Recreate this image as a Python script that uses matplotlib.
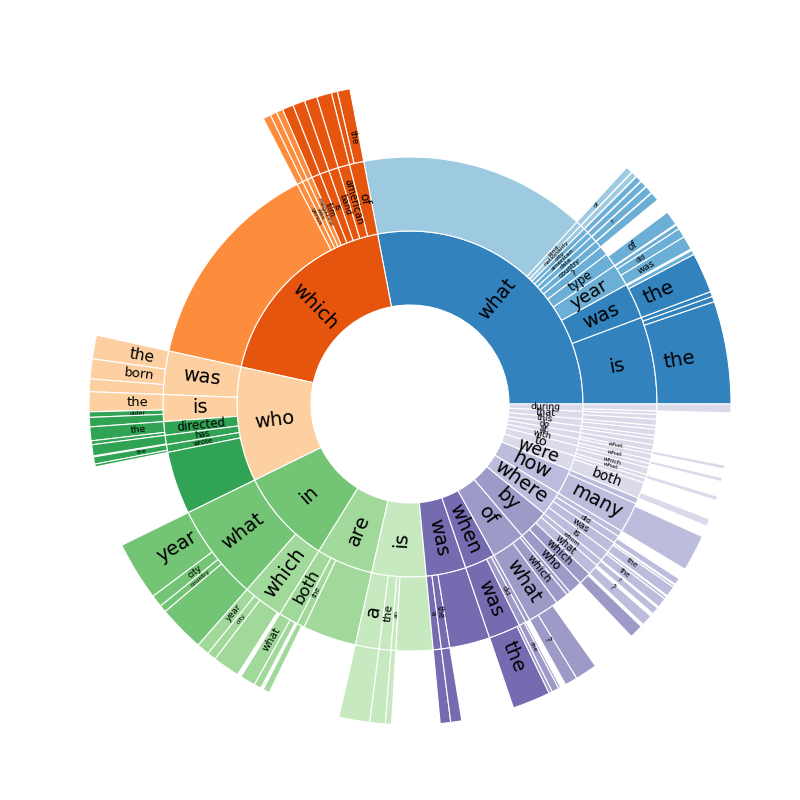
import numpy as np
import matplotlib
matplotlib.use("Agg")
import matplotlib.pyplot as plt
from matplotlib.patches import Wedge

# share of questions (in degrees of the circle) by first, second and third word
level1_labels = ["what", "which", "who", "in", "are", "is", "was", "when", "of", "by",
                 "where", "how", "were", "to", "with", "at", "do", "this", "that", "during"]
level1_values = [100.8, 66.8, 38.5, 32.1, 19.0, 18.2, 13.4, 10.2, 11.4, 10.4,
                 8.2, 8.6, 4.9, 3.5, 2.3, 2.2, 2.2, 2.3, 2.6, 2.4]

# second word: parent / label / value  ("" = other, "_x" = unlabeled)
level2_parent = (["what"] * 12 + ["which"] * 9 + ["who"] * 6 + ["in"] * 2 + ["are"] * 3
                 + ["is"] * 4 + ["was"] * 3 + ["when"] * 3 + ["of"] * 3 + ["by"] * 4
                 + ["where"] * 4 + ["how"] * 2 + ["were"] * 2 + ["to"] * 3 + ["with"] * 2
                 + ["at"] * 2 + ["do"] * 2 + ["this"] * 2 + ["that"] * 2 + ["during"] * 2)
level2_labels = ["is", "was", "year", "type", "?", "country", "date", "american", "city",
                 "nationality", "kind", "",
                 "of", "american", "band", "is", "film", "magazine", "was", "genus", "",
                 "was", "is", "directed", "has", "wrote", "",
                 "what", "which",
                 "both", "the", "",
                 "a", "the", "an", "",
                 "a", "the", "",
                 "was", "did", "",
                 "what", "which", "",
                 "who", "which", "what", "whom",
                 "is", "was", "did", "",
                 "many", "",
                 "both", "",
                 "what", "which", "",
                 "what", "",
                 "what", "",
                 "", "",
                 "", "",
                 "", "",
                 "", "_a"]
level2_values = [20.5, 8.4, 5.2, 3.2, 2.2, 1.7, 1.5, 1.3, 1.2, 1.1, 1.2, 53.3,
                 3.4, 2.7, 2.3, 2.2, 2.0, 1.2, 1.2, 1.4, 50.4,
                 10.2, 6.3, 3.2, 2.2, 1.8, 14.8,
                 22.6, 9.5,
                 4.6, 1.8, 12.6,
                 5.6, 2.8, 1.1, 8.7,
                 1.9, 2.0, 9.5,
                 7.5, 1.7, 1.0,
                 7.5, 3.0, 0.9,
                 3.2, 3.0, 2.6, 1.6,
                 2.5, 2.5, 1.8, 1.4,
                 7.2, 1.4,
                 3.8, 1.1,
                 0.9, 1.6, 1.0,
                 1.0, 1.3,
                 0.8, 1.4,
                 1.3, 0.9,
                 1.4, 0.9,
                 1.5, 1.1,
                 0.8, 1.6]

# third word: parent path / label / value
level3_parent = (["what/is"] * 3 + ["what/was"] * 2 + ["what/year"] * 3 + ["what/type",
                 "what/country", "what/date", "what/american", "what/city", "what/nationality",
                 "what/kind"]
                 + ["which/of"] * 2 + ["which/american", "which/band", "which/is", "which/film",
                 "which/magazine", "which/was", "which/genus"]
                 + ["who/was"] * 3 + ["who/is"] * 3 + ["who/directed"] * 2 + ["who/has"]
                 + ["who/wrote"] * 2
                 + ["in/what"] * 4 + ["in/which"] * 3
                 + ["are/both"] * 2 + ["are/the"]
                 + ["is/a", "is/the", "is/an", "was/a", "was/the"]
                 + ["when/was"] * 2 + ["when/did"] * 2
                 + ["of/what"] * 2 + ["by/which", "by/what", "by/whom"]
                 + ["where/is"] * 2 + ["where/was"] * 2 + ["where/did", "how/many", "were/both",
                 "to/what", "with/what", "at/what", "during/_a"])
level3_labels = (["the", "", "", "the", "", "was", "did", "", "of", "", "?", "", "", "", "of"]
                 + ["the", "", "", "", "", "", "", "", ""]
                 + ["the", "born", "", "the", "older", "", "the", "", "", "the", ""]
                 + ["year", "city", "country", "", "year", "city", ""]
                 + ["what", "", ""]
                 + ["", "", "", "", ""]
                 + ["the", "", "the", ""]
                 + ["?", "", "", "?", "?"]
                 + ["the", "", "the", "", "", "", "", "", "", "", ""])
level3_values = ([18.6, 1.0, 0.9, 7.3, 0.8, 2.5, 1.7, 0.8, 2.6, 1.6, 1.4, 1.2, 1.1, 1.0, 1.2]
                 + [2.3, 1.1, 2.7, 2.3, 2.2, 2.0, 1.2, 1.2, 1.4]
                 + [4.3, 3.6, 2.3, 3.6, 1.0, 1.7, 2.5, 0.7, 2.0, 1.3, 0.5]
                 + [10.7, 2.2, 1.3, 8.4, 2.3, 1.6, 4.9]
                 + [2.8, 1.3, 1.2]
                 + [5.6, 2.8, 1.1, 1.9, 2.0]
                 + [6.9, 0.6, 1.3, 0.4]
                 + [2.3, 4.0, 2.5, 2.0, 1.3]
                 + [1.8, 0.5, 1.9, 0.4, 1.2, 6.6, 1.4, 0.8, 0.7, 0.7, 1.6])

palette = plt.get_cmap("tab20c").colors[:16]
hole = 99 / 74
ring = 1.0
label_pos = [0.5, 0.5, 0.35]   # where the label sits across each ring
scale = 360.0 / sum(level1_values)

fig = plt.figure(figsize=(8, 8), dpi=100)
ax = fig.add_axes([0, 0, 1, 1])
ax.set_xlim(-410 / 74, 390 / 74)
ax.set_ylim(-396 / 74, 404 / 74)
ax.set_aspect("equal")
ax.axis("off")


def draw(level, start, value, label):
    t1 = start * scale
    t2 = (start + value) * scale
    r_in = hole + level * ring
    color = palette[min(15, int(t1 / 360 * 16))]
    ax.add_patch(Wedge((0, 0), r_in + ring, t1, t2, width=ring, facecolor=color,
                       edgecolor="white", linewidth=0.8))
    if label and not label.startswith("_"):
        mid = (t1 + t2) / 2
        r = r_in + ring * label_pos[level]
        rot = mid if (mid <= 90 or mid >= 270) else mid - 180
        fs = max(4.5, min(14, 0.8 + 2.4 * (t2 - t1)))
        ax.text(r * np.cos(np.deg2rad(mid)), r * np.sin(np.deg2rad(mid)), label,
                rotation=rot, rotation_mode="anchor", ha="center", va="center",
                fontsize=fs, color="black")


starts = {}
pos = 0.0
for lab, val in zip(level1_labels, level1_values):
    draw(0, pos, val, lab)
    starts[lab] = pos
    pos += val

cursor = dict(starts)
for par, lab, val in zip(level2_parent, level2_labels, level2_values):
    s = cursor[par]
    draw(1, s, val, lab)
    starts[par + "/" + lab] = s
    cursor[par] = s + val

cursor = {}
for par, lab, val in zip(level3_parent, level3_labels, level3_values):
    s = cursor.get(par, starts[par])
    draw(2, s, val, lab)
    cursor[par] = s + val

fig.savefig("out.png", dpi=100)
